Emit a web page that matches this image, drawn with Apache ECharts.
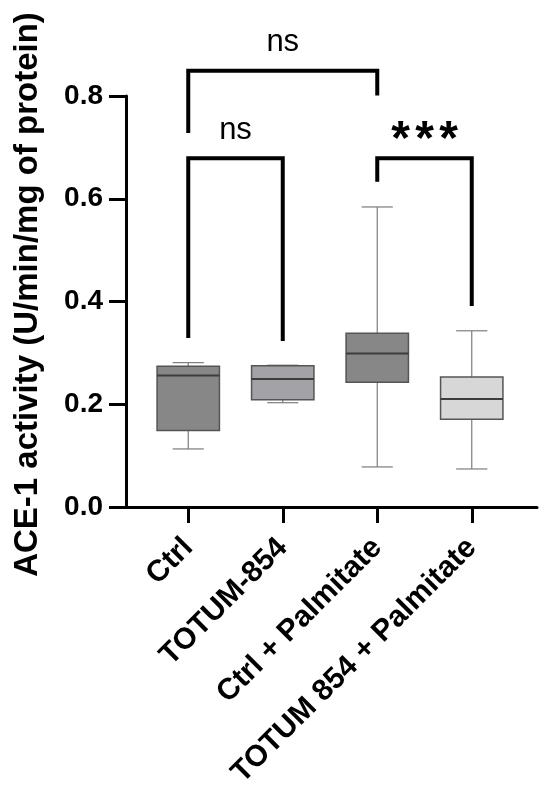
<!DOCTYPE html>
<html>
<head>
<meta charset="utf-8">
<script src="https://cdn.jsdelivr.net/npm/echarts@6/dist/echarts.min.js"></script>
<style>
  html, body { margin: 0; padding: 0; background: #fff; }
  #chart { width: 550px; height: 805px; }
</style>
</head>
<body>
<div id="chart"></div>
<script>
// groups on the x axis
var categories = ['Ctrl', 'TOTUM-854', 'Ctrl + Palmitate', 'TOTUM 854 + Palmitate'];
// box values per group: min, Q1, median, Q3, max
var boxMin    = [0.113, 0.203, 0.078, 0.074];
var boxQ1     = [0.149, 0.209, 0.243, 0.171];
var boxMedian = [0.256, 0.249, 0.299, 0.210];
var boxQ3     = [0.274, 0.275, 0.338, 0.253];
var boxMax    = [0.281, 0.276, 0.584, 0.343];
var boxColors = ['#878787', '#a3a2a7', '#878787', '#d7d7d7'];
// y ticks
var yTicks = [0, 0.2, 0.4, 0.6, 0.8];
// significance brackets
var bracketFrom     = [0, 0, 2];
var bracketTo       = [2, 1, 3];
var bracketTop      = [0.849, 0.679, 0.679];
var bracketLeftEnd  = [0.728, 0.329, 0.633];
var bracketRightEnd = [0.801, 0.323, 0.391];
var bracketLabels   = ['ns', 'ns', '***'];

var font = 'Arial, "Liberation Sans", Helvetica, sans-serif';
var myChart = echarts.init(document.getElementById('chart'), null, {renderer: 'canvas'});

var boxData = categories.map(function (c, i) {
    return [i, boxMin[i], boxQ1[i], boxMedian[i], boxQ3[i], boxMax[i]];
});
var bracketData = bracketLabels.map(function (t, i) {
    return [bracketFrom[i], bracketTo[i], bracketTop[i], bracketLeftEnd[i], bracketRightEnd[i]];
});

// label above a bracket; asterisks are drawn one by one so they sit wider apart
function bracketText(label, cx, y) {
    if (label.indexOf('*') < 0) {
        return [{
            type: 'text', x: cx, y: y - 28,
            style: {text: label, fill: '#000', font: '31px ' + font, align: 'center', verticalAlign: 'middle'}
        }];
    }
    var n = label.length, step = 24, out = [];
    for (var k = 0; k < n; k++) {
        out.push({
            type: 'text', x: cx + (k - (n - 1) / 2) * step, y: y - 17,
            style: {text: '*', fill: '#000', font: 'bold 48px ' + font, align: 'center', verticalAlign: 'middle'}
        });
    }
    return out;
}

var option = {
    backgroundColor: '#fff',
    animation: false,
    grid: [
        {left: 126, right: 13, top: 96, bottom: 298},
        {left: 141, right: 31, top: 96, bottom: 298}
    ],
    xAxis: [
        {
            type: 'value', gridIndex: 0, min: 0, max: 1,
            axisLine: {show: true, lineStyle: {color: '#000', width: 3}},
            axisTick: {show: false}, axisLabel: {show: false}, splitLine: {show: false}
        },
        {
            type: 'category', gridIndex: 1, data: categories, boundaryGap: true,
            axisLine: {show: false},
            axisTick: {show: true, alignWithLabel: true, length: 16, lineStyle: {color: '#000', width: 3}},
            axisLabel: {
                interval: 0, rotate: 45, margin: 36, padding: [14, 0, 0, 0],
                color: '#000', fontFamily: font, fontWeight: 'bold', fontSize: 30
            },
            splitLine: {show: false}
        }
    ],
    yAxis: [
        {
            type: 'value', gridIndex: 0, min: yTicks[0], max: yTicks[yTicks.length - 1], interval: 0.2,
            name: 'ACE-1 activity (U/min/mg of protein)',
            nameLocation: 'middle', nameRotate: 90, nameGap: 82,
            nameTextStyle: {color: '#000', fontFamily: font, fontWeight: 'bold', fontSize: 33, padding: [0, 0, 0, 14]},
            axisLine: {show: true, lineStyle: {color: '#000', width: 3}},
            axisTick: {show: true, length: 17, lineStyle: {color: '#000', width: 3}},
            axisLabel: {
                margin: 23, color: '#000', fontFamily: font, fontWeight: 'bold', fontSize: 28,
                formatter: function (v) { return v.toFixed(1); }
            },
            splitLine: {show: false}
        },
        {
            type: 'value', gridIndex: 1, min: yTicks[0], max: yTicks[yTicks.length - 1], show: false
        }
    ],
    series: [
        {
            type: 'custom',
            name: 'boxes',
            xAxisIndex: 1, yAxisIndex: 1,
            data: boxData,
            encode: {x: 0, y: [1, 2, 3, 4, 5]},
            renderItem: function (params, api) {
                var idx = api.value(0);
                var band = api.size([1, 0])[0];
                var w = band * 0.66;
                var cap = w * 0.5;
                var pMin = api.coord([idx, api.value(1)]);
                var pQ1 = api.coord([idx, api.value(2)]);
                var pMed = api.coord([idx, api.value(3)]);
                var pQ3 = api.coord([idx, api.value(4)]);
                var pMax = api.coord([idx, api.value(5)]);
                var cx = pMin[0];
                var whisker = {stroke: '#7c7c7c', lineWidth: 1.2};
                return {
                    type: 'group',
                    children: [
                        {type: 'line', shape: {x1: cx, y1: pMax[1], x2: cx, y2: pQ3[1]}, style: whisker},
                        {type: 'line', shape: {x1: cx, y1: pQ1[1], x2: cx, y2: pMin[1]}, style: whisker},
                        {type: 'line', shape: {x1: cx - cap / 2, y1: pMax[1], x2: cx + cap / 2, y2: pMax[1]}, style: whisker},
                        {type: 'line', shape: {x1: cx - cap / 2, y1: pMin[1], x2: cx + cap / 2, y2: pMin[1]}, style: whisker},
                        {
                            type: 'rect',
                            shape: {x: cx - w / 2, y: pQ3[1], width: w, height: pQ1[1] - pQ3[1]},
                            style: {fill: boxColors[idx], stroke: '#555', lineWidth: 1.5}
                        },
                        {
                            type: 'line',
                            shape: {x1: cx - w / 2, y1: pMed[1], x2: cx + w / 2, y2: pMed[1]},
                            style: {stroke: '#3c3c3c', lineWidth: 2}
                        }
                    ]
                };
            },
            clip: false,
            z: 2
        },
        {
            type: 'custom',
            name: 'brackets',
            xAxisIndex: 1, yAxisIndex: 1,
            data: bracketData,
            renderItem: function (params, api) {
                var i = params.dataIndex;
                var a = api.coord([api.value(0), api.value(2)]);
                var b = api.coord([api.value(1), api.value(2)]);
                var aEnd = api.coord([api.value(0), api.value(3)]);
                var bEnd = api.coord([api.value(1), api.value(4)]);
                var children = [{
                    type: 'polyline',
                    shape: {points: [aEnd, a, b, bEnd]},
                    style: {stroke: '#000', lineWidth: 4, fill: null, lineJoin: 'miter'}
                }];
                return {
                    type: 'group',
                    children: children.concat(bracketText(bracketLabels[i], (a[0] + b[0]) / 2, a[1]))
                };
            },
            clip: false,
            z: 3
        }
    ]
};

myChart.setOption(option);
</script>
</body>
</html>
